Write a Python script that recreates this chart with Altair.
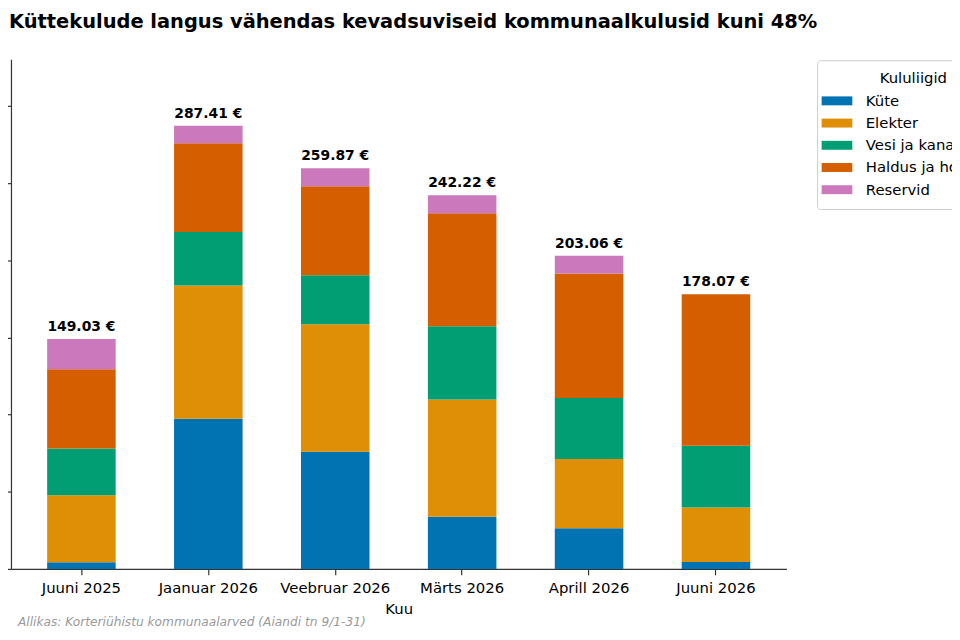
import altair as alt
import pandas as pd

# andmed
kuud = ["Juuni 2025", "Jaanuar 2026", "Veebruar 2026", "Märts 2026", "Aprill 2026", "Juuni 2026"]
liigid = ["Küte", "Elekter", "Vesi ja kanal", "Haldus ja hooldus", "Reservid"]
varvid = ["#0173b2", "#de8f05", "#029e73", "#d55e00", "#cc78bc"]

kyte = [4.3, 97.4, 75.9, 33.8, 26.3, 4.5]
elekter = [43.4, 86.4, 82.8, 76.0, 44.9, 35.3]
vesi = [30.4, 34.6, 31.7, 47.6, 39.6, 40.0]
haldus = [51.4, 57.6, 57.8, 73.2, 80.7, 98.27]
reservid = [19.53, 11.41, 11.67, 11.62, 11.56, 0.0]

y_ticks = [0, 50, 100, 150, 200, 250, 300]

pealkiri = "Küttekulude langus vähendas kevadsuviseid kommunaalkulusid kuni 48%"
allikas = "Allikas: Korteriühistu kommunaalarved (Aiandi tn 9/1-31)"

read = []
for j, (liik, vaartused) in enumerate(zip(liigid, [kyte, elekter, vesi, haldus, reservid])):
    for kuu, v in zip(kuud, vaartused):
        read.append({"kuu": kuu, "liik": liik, "summa": v, "jrk": j})
df = pd.DataFrame(read)

FONT = "DejaVu Sans"

x_enc = alt.X(
    "kuu:N",
    sort=kuud,
    scale=alt.Scale(paddingInner=0.46, paddingOuter=0.285),
    axis=alt.Axis(
        title="Kuu", labelAngle=0, labelFont=FONT, labelFontSize=15, labelColor="black",
        labelBaseline="alphabetic", labelPadding=18, tickSize=6, tickColor="#333",
        tickWidth=1.2, domainColor="#333", domainWidth=1.2, titleFont=FONT,
        titleFontSize=15, titleFontWeight="normal", titleColor="black",
        titleY=45, titleBaseline="alphabetic",
    ),
)

# tulbad
bars = alt.Chart(df).mark_bar(strokeWidth=0).encode(
    x=x_enc,
    y=alt.Y(
        "summa:Q",
        stack="zero",
        scale=alt.Scale(domain=[0, 330.5], nice=False),
        axis=alt.Axis(
            title=None, values=y_ticks, grid=False, labels=False,
            tickSize=6, tickColor="#333", tickWidth=1.2,
            domainColor="#333", domainWidth=1.2,
        ),
    ),
    color=alt.Color(
        "liik:N",
        sort=liigid,
        scale=alt.Scale(domain=liigid, range=varvid),
        legend=alt.Legend(
            title="Kululiigid", orient="none", legendX=813, legendY=1, direction="vertical",
            symbolType="M-1.72,-0.5H1.72V0.5H-1.72Z", symbolSize=324, symbolStrokeWidth=0,
            symbolOpacity=1, labelFont=FONT, labelFontSize=15, labelColor="black",
            labelOffset=20, rowPadding=5.4, titleFont=FONT, titleFontSize=15,
            titleFontWeight="normal", titleColor="black", titleAnchor="middle",
            titlePadding=6, padding=11, strokeColor="#cccccc", fillColor="white",
            cornerRadius=3,
        ),
    ),
    order=alt.Order("jrk:Q", sort="ascending"),
)

# kogusummad tulpade kohal
totals = alt.Chart(df).transform_aggregate(
    total="sum(summa)", groupby=["kuu"]
).transform_calculate(
    silt="format(datum.total, '.2f') + ' €'"
).mark_text(
    font=FONT, fontSize=14, fontWeight="bold", color="black",
    baseline="alphabetic", dy=-8,
).encode(
    x=alt.X("kuu:N", sort=kuud),
    y="total:Q",
    text="silt:N",
)

# allikas
source = alt.Chart(pd.DataFrame({"t": [allikas]})).mark_text(
    font=FONT, fontSize=12.3, fontStyle="italic", color="#9a9a9a",
    align="left", baseline="alphabetic",
).encode(x=alt.value(7), y=alt.value(572), text="t:N")

chart = alt.layer(bars, totals, source).properties(
    width=782,
    height=514,
    autosize="none",
    padding={"left": 3, "top": 49, "right": 167, "bottom": 62},
    title=alt.TitleParams(
        pealkiri, font=FONT, fontSize=19.6, fontWeight="bold", color="black",
        anchor="start", frame="group", dx=-2, baseline="alphabetic", offset=12,
    ),
).configure_view(stroke=None)

chart.save("out.html", embed_options={"renderer": "svg", "actions": False})
